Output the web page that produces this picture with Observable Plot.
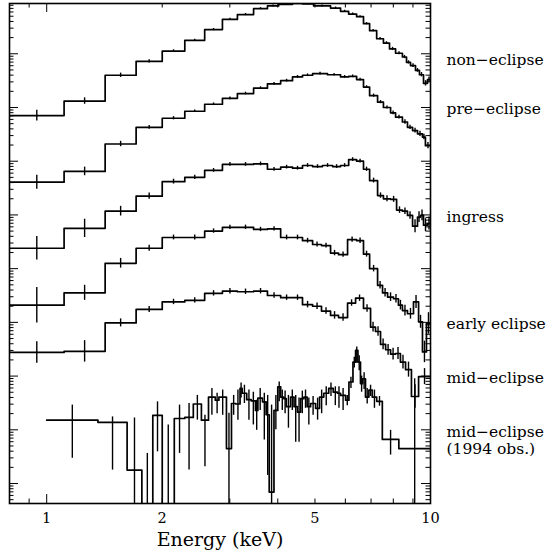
<!DOCTYPE html>
<html><head><meta charset="utf-8">
<script src="https://cdn.jsdelivr.net/npm/d3@7"></script>
<script src="https://cdn.jsdelivr.net/npm/@observablehq/plot@0.6"></script>
<style>body{margin:0;background:#fff}</style>
</head><body><div id="chart"></div>
<script>
// ---- data: bin edges in keV, log10 flux (arbitrary, offset spectra), log10 error half-size ----
const nonEclipseEdges = [0.80,1.11,1.42,1.71,2.00,2.29,2.58,2.87,3.14,3.46,3.76,4.02,4.37,4.64,4.96,5.49,5.83,6.12,6.42,6.69,6.94,7.24,7.54,7.82,8.11,8.45,8.66,8.87,9.14,9.36,9.59,9.82,10.0];
const nonEclipseLogFlux = [6.85,7.12,7.60,7.86,8.05,8.25,8.45,8.64,8.73,8.84,8.89,8.92,8.94,8.93,8.89,8.85,8.79,8.74,8.69,8.56,8.43,8.28,8.20,8.09,8.01,7.94,7.84,7.78,7.69,7.61,7.45,7.52];
const nonEclipseErr = [0.10,0.06,0.04,0.03,0.025,0.02,0.02,0.02,0.02,0.02,0.02,0.02,0.02,0.02,0.02,0.02,0.02,0.02,0.02,0.02,0.02,0.025,0.025,0.03,0.03,0.03,0.03,0.035,0.035,0.04,0.05,0.05];

const preEclipseEdges = [0.80,1.11,1.42,1.71,2.00,2.29,2.58,2.87,3.14,3.46,3.76,4.07,4.37,4.64,4.93,5.39,5.83,6.12,6.42,6.69,6.94,7.28,7.54,7.87,8.11,8.45,8.71,8.98,9.25,9.53,9.70,10.0];
const preEclipseLogFlux = [5.61,5.81,6.32,6.63,6.80,6.93,7.06,7.17,7.26,7.36,7.44,7.50,7.57,7.60,7.63,7.61,7.57,7.58,7.52,7.38,7.22,7.10,7.00,6.90,6.82,6.73,6.63,6.57,6.51,6.45,6.29];
const preEclipseErr = [0.13,0.08,0.05,0.035,0.03,0.025,0.025,0.025,0.025,0.025,0.025,0.025,0.025,0.025,0.025,0.025,0.025,0.025,0.025,0.025,0.03,0.03,0.03,0.035,0.035,0.04,0.04,0.045,0.05,0.05,0.06];

const ingressEdges = [0.80,1.11,1.42,1.71,2.00,2.29,2.58,2.87,3.14,3.46,3.76,4.07,4.37,4.64,4.93,5.23,5.56,5.83,6.12,6.42,6.69,6.94,7.28,7.54,7.87,8.16,8.45,8.71,8.98,9.25,9.42,9.59,9.82,10.0];
const ingressLogFlux = [4.38,4.75,5.07,5.35,5.62,5.70,5.83,5.94,5.94,5.95,5.85,5.89,5.87,5.92,5.90,5.92,5.90,5.92,6.03,6.00,5.85,5.64,5.36,5.30,5.29,5.09,5.07,4.99,4.79,4.96,4.99,4.81,4.84];
const ingressErr = [0.22,0.17,0.09,0.06,0.045,0.04,0.035,0.035,0.035,0.035,0.035,0.035,0.035,0.035,0.035,0.035,0.035,0.035,0.035,0.035,0.04,0.045,0.05,0.055,0.055,0.06,0.06,0.07,0.12,0.1,0.1,0.12,0.12];

const earlyEdges = [0.80,1.11,1.42,1.71,2.00,2.29,2.58,2.87,3.14,3.46,3.76,4.07,4.37,4.64,4.93,5.20,5.49,5.76,6.08,6.42,6.69,6.94,7.28,7.50,7.73,8.01,8.25,8.45,8.71,9.03,9.31,9.53,9.76,10.0];
const earlyLogFlux = [3.32,3.55,4.10,4.38,4.58,4.58,4.70,4.77,4.77,4.73,4.74,4.58,4.58,4.52,4.45,4.43,4.29,4.26,4.54,4.52,4.27,4.00,3.69,3.55,3.47,3.44,3.32,3.22,3.16,3.38,3.01,2.45,2.98];
const earlyErr = [0.33,0.14,0.09,0.055,0.045,0.045,0.04,0.04,0.04,0.04,0.04,0.045,0.045,0.045,0.045,0.045,0.05,0.05,0.05,0.05,0.055,0.06,0.07,0.08,0.08,0.08,0.09,0.1,0.1,0.12,0.12,0.2,0.2];

const midEdges = [0.80,1.11,1.42,1.71,2.00,2.29,2.58,2.87,3.14,3.46,3.76,4.07,4.37,4.64,4.93,5.20,5.49,5.76,6.08,6.38,6.69,6.98,7.19,7.41,7.64,7.87,8.11,8.35,8.61,8.92,9.31,10.0];
const midLogFlux = [2.44,2.46,2.99,3.24,3.38,3.41,3.54,3.58,3.57,3.58,3.50,3.46,3.46,3.33,3.30,3.21,3.13,3.09,3.36,3.45,3.26,2.91,2.83,2.59,2.49,2.41,2.42,2.26,2.12,1.62,1.99];
const midErr = [0.2,0.2,0.075,0.055,0.05,0.05,0.05,0.05,0.05,0.05,0.05,0.05,0.05,0.06,0.06,0.06,0.07,0.07,0.06,0.06,0.07,0.09,0.09,0.1,0.1,0.11,0.11,0.13,0.14,0.22,0.15];

// 1994 observation: -1 marks bins whose flux falls below the plotted range
const mid94Edges = [1.00,1.36,1.62,1.77,1.89,2.00,2.15,2.29,2.41,2.53,2.64,2.75,2.81,2.94,3.03,3.11,3.19,3.23,3.32,3.41,3.50,3.55,3.65,3.73,3.80,3.91,4.00,4.07,4.15,4.21,4.32,4.41,4.50,4.59,4.68,4.77,4.87,5.02,5.14,5.27,5.43,5.58,5.72,5.83,6.01,6.13,6.28,6.38,6.47,6.57,6.66,6.77,6.91,7.05,7.24,7.49,8.27,10.0];
const mid94LogFlux = [1.18,1.14,0.25,-1,1.27,-1,1.21,1.23,1.48,1.18,1.61,1.55,1.61,0.65,1.49,1.48,1.77,1.68,1.56,1.54,1.36,1.59,1.52,1.28,-0.16,1.36,1.80,1.61,1.58,1.43,1.61,1.43,1.33,1.58,1.61,1.43,1.49,1.40,1.61,1.68,1.77,1.70,1.68,1.64,1.55,1.89,2.26,2.48,2.26,1.86,1.95,1.61,1.74,1.61,1.53,0.82,0.65];
const mid94ErrHi = [1.46,1.24,1.22,0.56,1.52,1.09,1.46,1.49,1.64,1.27,1.77,1.68,1.74,1.31,1.64,1.74,1.87,1.83,1.74,1.70,1.55,1.77,1.68,1.64,1.46,1.64,1.89,1.74,1.72,1.64,1.74,1.64,1.59,1.72,1.74,1.59,1.62,1.59,1.74,1.80,1.87,1.80,1.80,1.77,1.64,1.98,2.35,2.54,2.38,2.00,2.06,1.77,1.83,1.74,1.62,0.99,1.95];
const mid94ErrLo = [0.47,0.25,-1,-1,0.59,-1,0.56,0.25,1.18,0.31,1.27,1.30,1.27,-1,1.27,1.18,1.59,1.49,1.18,1.09,0.99,1.36,0.81,0.15,-1,1.00,1.52,1.36,1.30,1.03,1.36,0.77,0.77,1.30,1.40,1.09,1.27,1.18,1.30,1.45,1.62,1.45,1.40,1.36,1.45,1.77,2.15,2.24,2.10,1.70,1.75,1.48,1.62,1.40,1.44,0.53,-1];

const labelNames = ["non−eclipse","pre−eclipse","ingress","early eclipse","mid−eclipse","mid−eclipse\n(1994 obs.)"];
const labelLogLevels = [7.90, 6.97, 4.96, 2.97, 1.97, 0.81];
const xTickLabels = [1, 2, 5, 10];
const xDomain = [0.8, 10];
const yLogDomain = [-0.372, 8.936];

// ---- build mark data ----
const spectra = [
  {name: "non-eclipse", edges: nonEclipseEdges, v: nonEclipseLogFlux, e: nonEclipseErr},
  {name: "pre-eclipse", edges: preEclipseEdges, v: preEclipseLogFlux, e: preEclipseErr},
  {name: "ingress", edges: ingressEdges, v: ingressLogFlux, e: ingressErr},
  {name: "early", edges: earlyEdges, v: earlyLogFlux, e: earlyErr},
  {name: "mid", edges: midEdges, v: midLogFlux, e: midErr},
  {name: "mid94", edges: mid94Edges, v: mid94LogFlux, hi: mid94ErrHi, lo: mid94ErrLo}
];
const steps = [], bars = [];
for (const s of spectra) {
  s.v.forEach((v, i) => {
    steps.push({s: s.name, x: s.edges[i], y: 10 ** v});
    steps.push({s: s.name, x: s.edges[i + 1], y: 10 ** v});
    const lo = s.lo ? s.lo[i] : v - s.e[i];
    const hi = s.hi ? s.hi[i] : v + s.e[i];
    bars.push({x: Math.sqrt(s.edges[i] * s.edges[i + 1]), y1: 10 ** lo, y2: 10 ** hi});
  });
}
const labels = labelNames.map((n, i) => ({name: n, y: 10 ** labelLogLevels[i]}));

const W = 553, H = 556, mL = 9, mR = 123, mT = 3, mB = 53;
const fw = W - mL - mR, fh = H - mT - mB;
const yDomain = yLogDomain.map(d => 10 ** d);
const yTicks = d3.scaleLog().domain(yDomain).ticks(30).filter(t => t >= yDomain[0] && t <= yDomain[1]);
const isMajorY = t => Math.abs(Math.log10(t) - Math.round(Math.log10(t))) < 1e-6;
const yMajor = yTicks.filter(isMajorY), yMinor = yTicks.filter(t => !isMajorY(t));
const xTicks = d3.scaleLog().domain(xDomain).ticks(20).filter(t => t > xDomain[0] && t <= xDomain[1]);
const isMajorX = t => t === 1 || t === 10;
const xMajor = xTicks.filter(isMajorX), xMinor = xTicks.filter(t => !isMajorX(t));
const font = "DejaVu Serif";

const plot = Plot.plot({
  width: W, height: H,
  marginLeft: mL, marginRight: mR, marginTop: mT, marginBottom: mB,
  style: {fontFamily: font, background: "white", color: "black"},
  x: {type: "log", domain: xDomain, axis: null},
  y: {type: "log", domain: yDomain, axis: null},
  marks: [
    Plot.tickY(yMajor, {y: d => d, insetRight: fw - 9, stroke: "black", strokeWidth: 1}),
    Plot.tickY(yMinor, {y: d => d, insetRight: fw - 4.5, stroke: "black", strokeWidth: 1}),
    Plot.tickY(yMajor, {y: d => d, insetLeft: fw - 9, stroke: "black", strokeWidth: 1}),
    Plot.tickY(yMinor, {y: d => d, insetLeft: fw - 4.5, stroke: "black", strokeWidth: 1}),
    Plot.tickX(xMajor, {x: d => d, insetBottom: fh - 9, stroke: "black", strokeWidth: 1}),
    Plot.tickX(xMinor, {x: d => d, insetBottom: fh - 4.5, stroke: "black", strokeWidth: 1}),
    Plot.tickX(xMajor, {x: d => d, insetTop: fh - 9, stroke: "black", strokeWidth: 1}),
    Plot.tickX(xMinor, {x: d => d, insetTop: fh - 4.5, stroke: "black", strokeWidth: 1}),
    Plot.line(steps, {x: "x", y: "y", z: "s", stroke: "black", strokeWidth: 1.7, clip: true}),
    Plot.ruleX(bars, {x: "x", y1: "y1", y2: "y2", stroke: "black", strokeWidth: 1.4, clip: true}),
    Plot.frame({stroke: "black", strokeWidth: 1.6}),
    Plot.text(xTickLabels, {x: d => d, frameAnchor: "bottom", dy: 19, text: d => String(d), fontSize: 14.5, fill: "black"}),
    Plot.text(["Energy (keV)"], {frameAnchor: "bottom", dy: 42, text: d => d, fontSize: 19, fill: "black"}),
    Plot.text(labels, {x: () => xDomain[1], y: "y", text: "name", textAnchor: "start", dx: 16, fontSize: 15.5, lineHeight: 1.08, fill: "black"})
  ]
});
document.getElementById("chart").appendChild(plot);
</script>
</body></html>
